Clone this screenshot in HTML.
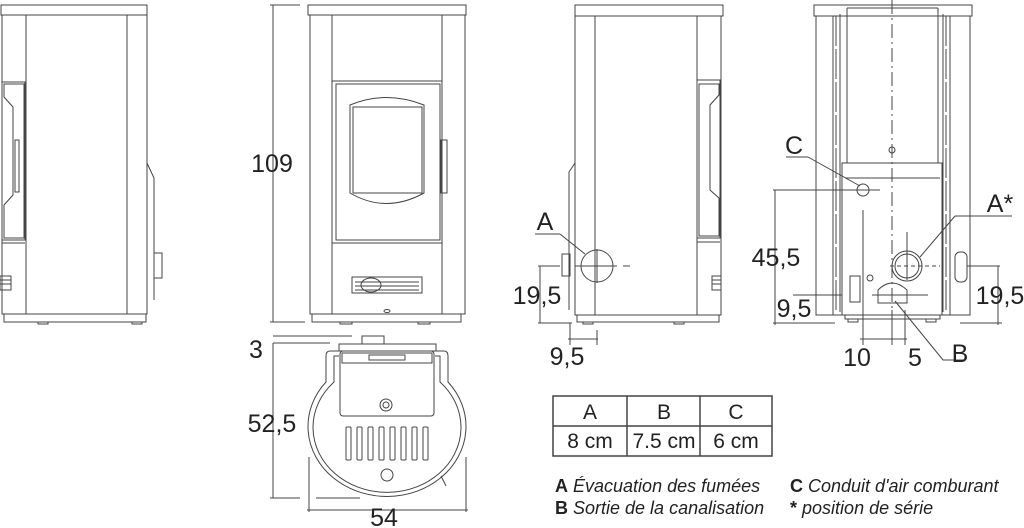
<!DOCTYPE html>
<html><head><meta charset="utf-8"><style>
html,body{margin:0;padding:0;background:#fff;}
svg{display:block;}
text{font-family:"Liberation Sans Narrow","Liberation Sans",sans-serif;fill:#222;}
</style></head><body>
<svg width="1024" height="528" viewBox="0 0 1024 528" xmlns="http://www.w3.org/2000/svg">
<g fill="none" stroke="#444" stroke-width="1">
<!-- VIEW 1 side left -->
<rect x="1" y="5" width="146" height="10"/>
<rect x="2" y="15" width="145" height="299"/>
<line x1="26" y1="15" x2="26" y2="314"/>
<line x1="127" y1="15" x2="127" y2="314"/>
<rect x="4" y="314" width="142" height="8"/>
<rect x="38" y="322" width="10" height="2"/><rect x="132" y="322" width="10" height="2"/>
<path d="M2 82 H25 V240 H2"/>
<path d="M4 84 H24 V238 H4 V205 L13 195 V107 L4 97 Z"/>
<rect x="15" y="140" width="4" height="52"/>
<line x1="2" y1="243" x2="25" y2="243"/>
<rect x="0" y="276" width="11" height="14"/>
<line x1="0" y1="280" x2="11" y2="280"/><line x1="0" y1="284" x2="11" y2="284"/>
<path d="M147 163 L154 178 V300"/>
<rect x="154" y="253" width="8" height="25"/>
<!-- dimension 109 -->
<line x1="273" y1="5" x2="273" y2="322"/>
<line x1="270" y1="5" x2="300" y2="5"/>
<line x1="270" y1="322" x2="305" y2="322"/>
<!-- VIEW 2 front -->
<rect x="308" y="5" width="158" height="10"/>
<rect x="310" y="15" width="155" height="299"/>
<line x1="332" y1="15" x2="332" y2="314"/>
<line x1="442" y1="15" x2="442" y2="314"/>
<rect x="332" y="81" width="110" height="162"/>
<rect x="336" y="84" width="104" height="156"/>
<path d="M350 105 Q386 90 424 105 V193 Q386 214 350 193 Z"/>
<rect x="353" y="107" width="69" height="86"/>
<rect x="441" y="140" width="6" height="53"/>
<rect x="352" y="277" width="70" height="16"/>
<line x1="355" y1="282" x2="419" y2="282"/><line x1="355" y1="286" x2="419" y2="286"/><line x1="355" y1="290" x2="419" y2="290"/>
<ellipse cx="371" cy="285" rx="10" ry="7"/>
<ellipse cx="387" cy="311" rx="3" ry="1.5"/>
<rect x="312" y="314" width="149" height="8"/>
<rect x="340" y="322" width="12" height="2"/><rect x="418" y="322" width="12" height="2"/>
<!-- TOP VIEW -->
<line x1="273" y1="336" x2="352" y2="336"/>
<line x1="273" y1="343" x2="330" y2="343"/>
<line x1="273" y1="343" x2="273" y2="498"/>
<line x1="270" y1="498" x2="300" y2="498"/>
<line x1="316" y1="498" x2="360" y2="498"/>
<rect x="362" y="336" width="22" height="8"/>
<rect x="339" y="344" width="97" height="7"/>
<path d="M340 351 L330 351 Q326 351 326 356 L326 382 A79 70 0 1 0 448 382 L448 356 Q448 351 444 351 L434 351"/>
<path d="M339 356 L334 356 L334 382 A74 65 0 1 0 440 382 L440 356 L435 356"/>
<rect x="340" y="351" width="94" height="65" rx="3"/>
<rect x="342" y="353" width="90" height="10"/>
<rect x="369" y="355" width="36" height="5"/>
<circle cx="386" cy="405" r="6"/><circle cx="386" cy="405" r="3"/>
<rect x="346" y="427" width="5" height="33" rx="1"/><rect x="357" y="427" width="5" height="33" rx="1"/>
<rect x="368" y="427" width="5" height="33" rx="1"/><rect x="379" y="427" width="5" height="33" rx="1"/>
<rect x="390" y="427" width="5" height="33" rx="1"/><rect x="401" y="427" width="5" height="33" rx="1"/>
<rect x="412" y="427" width="5" height="33" rx="1"/><rect x="423" y="427" width="5" height="33" rx="1"/>
<circle cx="387" cy="475" r="6"/>
<line x1="441" y1="476" x2="446" y2="486"/>
<line x1="309" y1="457" x2="309" y2="512"/>
<line x1="466" y1="457" x2="466" y2="512"/>
<line x1="307" y1="510" x2="468" y2="510"/>
<!-- VIEW 3 side right -->
<rect x="575" y="5" width="148" height="11"/>
<rect x="575" y="16" width="146" height="299"/>
<line x1="595" y1="16" x2="595" y2="315"/>
<line x1="697" y1="16" x2="697" y2="315"/>
<path d="M697 80 H720 V238 H697"/>
<path d="M699 84 H719 V95 L710 105 V190 L719 198 V236 H699 Z"/>
<line x1="697" y1="242" x2="720" y2="242"/>
<rect x="712" y="276" width="9" height="14"/>
<line x1="712" y1="280" x2="721" y2="280"/><line x1="712" y1="284" x2="721" y2="284"/>
<rect x="577" y="315" width="142" height="7"/>
<rect x="583" y="322" width="10" height="2"/><rect x="674" y="322" width="10" height="2"/>
<path d="M575 163 L569 172 V310"/>
<rect x="562" y="254" width="8" height="22"/>
<circle cx="597" cy="266" r="16"/>
<line x1="575" y1="266" x2="617" y2="266"/>
<line x1="597" y1="249" x2="597" y2="283"/>
<line x1="623" y1="266" x2="630" y2="266"/>
<line x1="535" y1="234" x2="560" y2="234"/>
<line x1="560" y1="234" x2="585" y2="254"/>
<line x1="538" y1="266" x2="560" y2="266"/>
<line x1="540" y1="266" x2="540" y2="323"/>
<line x1="538" y1="323" x2="572" y2="323"/>
<line x1="570" y1="323" x2="570" y2="345"/>
<line x1="597" y1="330" x2="597" y2="345"/>
<line x1="568" y1="339" x2="598" y2="339"/>
<!-- VIEW 4 back -->
<rect x="814" y="5" width="158" height="11"/>
<rect x="816" y="16" width="154" height="299"/>
<line x1="833" y1="16" x2="833" y2="315"/><line x1="950" y1="16" x2="950" y2="315"/>
<line x1="836" y1="16" x2="836" y2="312" stroke-dasharray="30 3"/>
<line x1="946" y1="16" x2="946" y2="312" stroke-dasharray="30 3"/>
<line x1="840" y1="14" x2="840" y2="312"/><line x1="943" y1="14" x2="943" y2="312"/>
<line x1="847" y1="8" x2="847" y2="163"/><line x1="938" y1="8" x2="938" y2="163"/>
<line x1="847" y1="8" x2="938" y2="8"/>
<line x1="892" y1="0" x2="892" y2="310" stroke-dasharray="14 4 2 4"/>
<circle cx="892" cy="150" r="3"/>
<rect x="842" y="163" width="100" height="152"/>
<line x1="845" y1="178" x2="940" y2="178"/>
<circle cx="863" cy="190" r="6"/>
<line x1="825" y1="190" x2="880" y2="190"/>
<line x1="863" y1="210" x2="863" y2="345"/>
<line x1="786" y1="157" x2="808" y2="157"/>
<line x1="808" y1="157" x2="860" y2="186"/>
<circle cx="907" cy="266" r="15"/><circle cx="907" cy="266" r="12"/>
<line x1="890" y1="266" x2="940" y2="266" stroke-dasharray="4 3"/>
<line x1="907" y1="232" x2="907" y2="280"/>
<line x1="920" y1="257" x2="955" y2="216"/><line x1="955" y1="216" x2="1012" y2="216"/>
<rect x="955" y="252" width="12" height="30" rx="5"/>
<line x1="967" y1="266" x2="1000" y2="266"/>
<line x1="998" y1="266" x2="998" y2="325"/>
<line x1="960" y1="323" x2="1002" y2="323"/>
<line x1="773" y1="190" x2="830" y2="190"/>
<line x1="775" y1="190" x2="775" y2="325"/>
<line x1="773" y1="323" x2="835" y2="323"/>
<line x1="793" y1="295" x2="842" y2="295"/>
<rect x="850" y="276" width="10" height="26"/>
<circle cx="870" cy="278" r="3"/>
<path d="M878 303 V290 Q892 276 907 290 V303 Z"/>
<line x1="872" y1="295" x2="928" y2="295"/>
<path d="M895 301 L943 360 H965"/>
<rect x="845" y="315" width="95" height="4"/>
<rect x="848" y="319" width="10" height="3"/><rect x="926" y="319" width="10" height="3"/>
<line x1="892" y1="310" x2="892" y2="345"/>
<line x1="905" y1="310" x2="905" y2="345"/>
<line x1="860" y1="339" x2="907" y2="339"/>
<!-- table -->
<rect x="553" y="396" width="219" height="60" stroke-width="1.5"/>
<line x1="553" y1="426" x2="772" y2="426" stroke-width="1.5"/>
<line x1="627" y1="396" x2="627" y2="456" stroke-width="1.5"/>
<line x1="700" y1="396" x2="700" y2="456" stroke-width="1.5"/>
</g>
<g font-size="25" text-anchor="middle">
<text x="272" y="172">109</text>
<text x="256" y="358">3</text>
<text x="272" y="432">52,5</text>
<text x="384" y="526">54</text>
<text x="545" y="230">A</text>
<text x="537" y="304">19,5</text>
<text x="567" y="365">9,5</text>
<text x="794" y="154">C</text>
<text x="1000" y="212">A*</text>
<text x="776" y="266">45,5</text>
<text x="794" y="317">9,5</text>
<text x="1000" y="304">19,5</text>
<text x="857" y="366">10</text>
<text x="915" y="366">5</text>
<text x="960" y="362">B</text>
</g>
<g font-size="21" text-anchor="middle">
<text x="590" y="419">A</text><text x="664" y="419">B</text><text x="736" y="419">C</text>
<text x="590" y="448">8 cm</text><text x="664" y="448">7.5 cm</text><text x="736" y="448">6 cm</text>
</g>
<g font-size="18">
<text x="555" y="492"><tspan font-weight="bold">A</tspan> <tspan font-style="italic">Évacuation des fumées</tspan></text>
<text x="555" y="514"><tspan font-weight="bold">B</tspan> <tspan font-style="italic">Sortie de la canalisation</tspan></text>
<text x="790" y="492"><tspan font-weight="bold">C</tspan> <tspan font-style="italic">Conduit d'air comburant</tspan></text>
<text x="790" y="514"><tspan font-weight="bold">*</tspan> <tspan font-style="italic">position de série</tspan></text>
</g>
</svg>
</body></html>
